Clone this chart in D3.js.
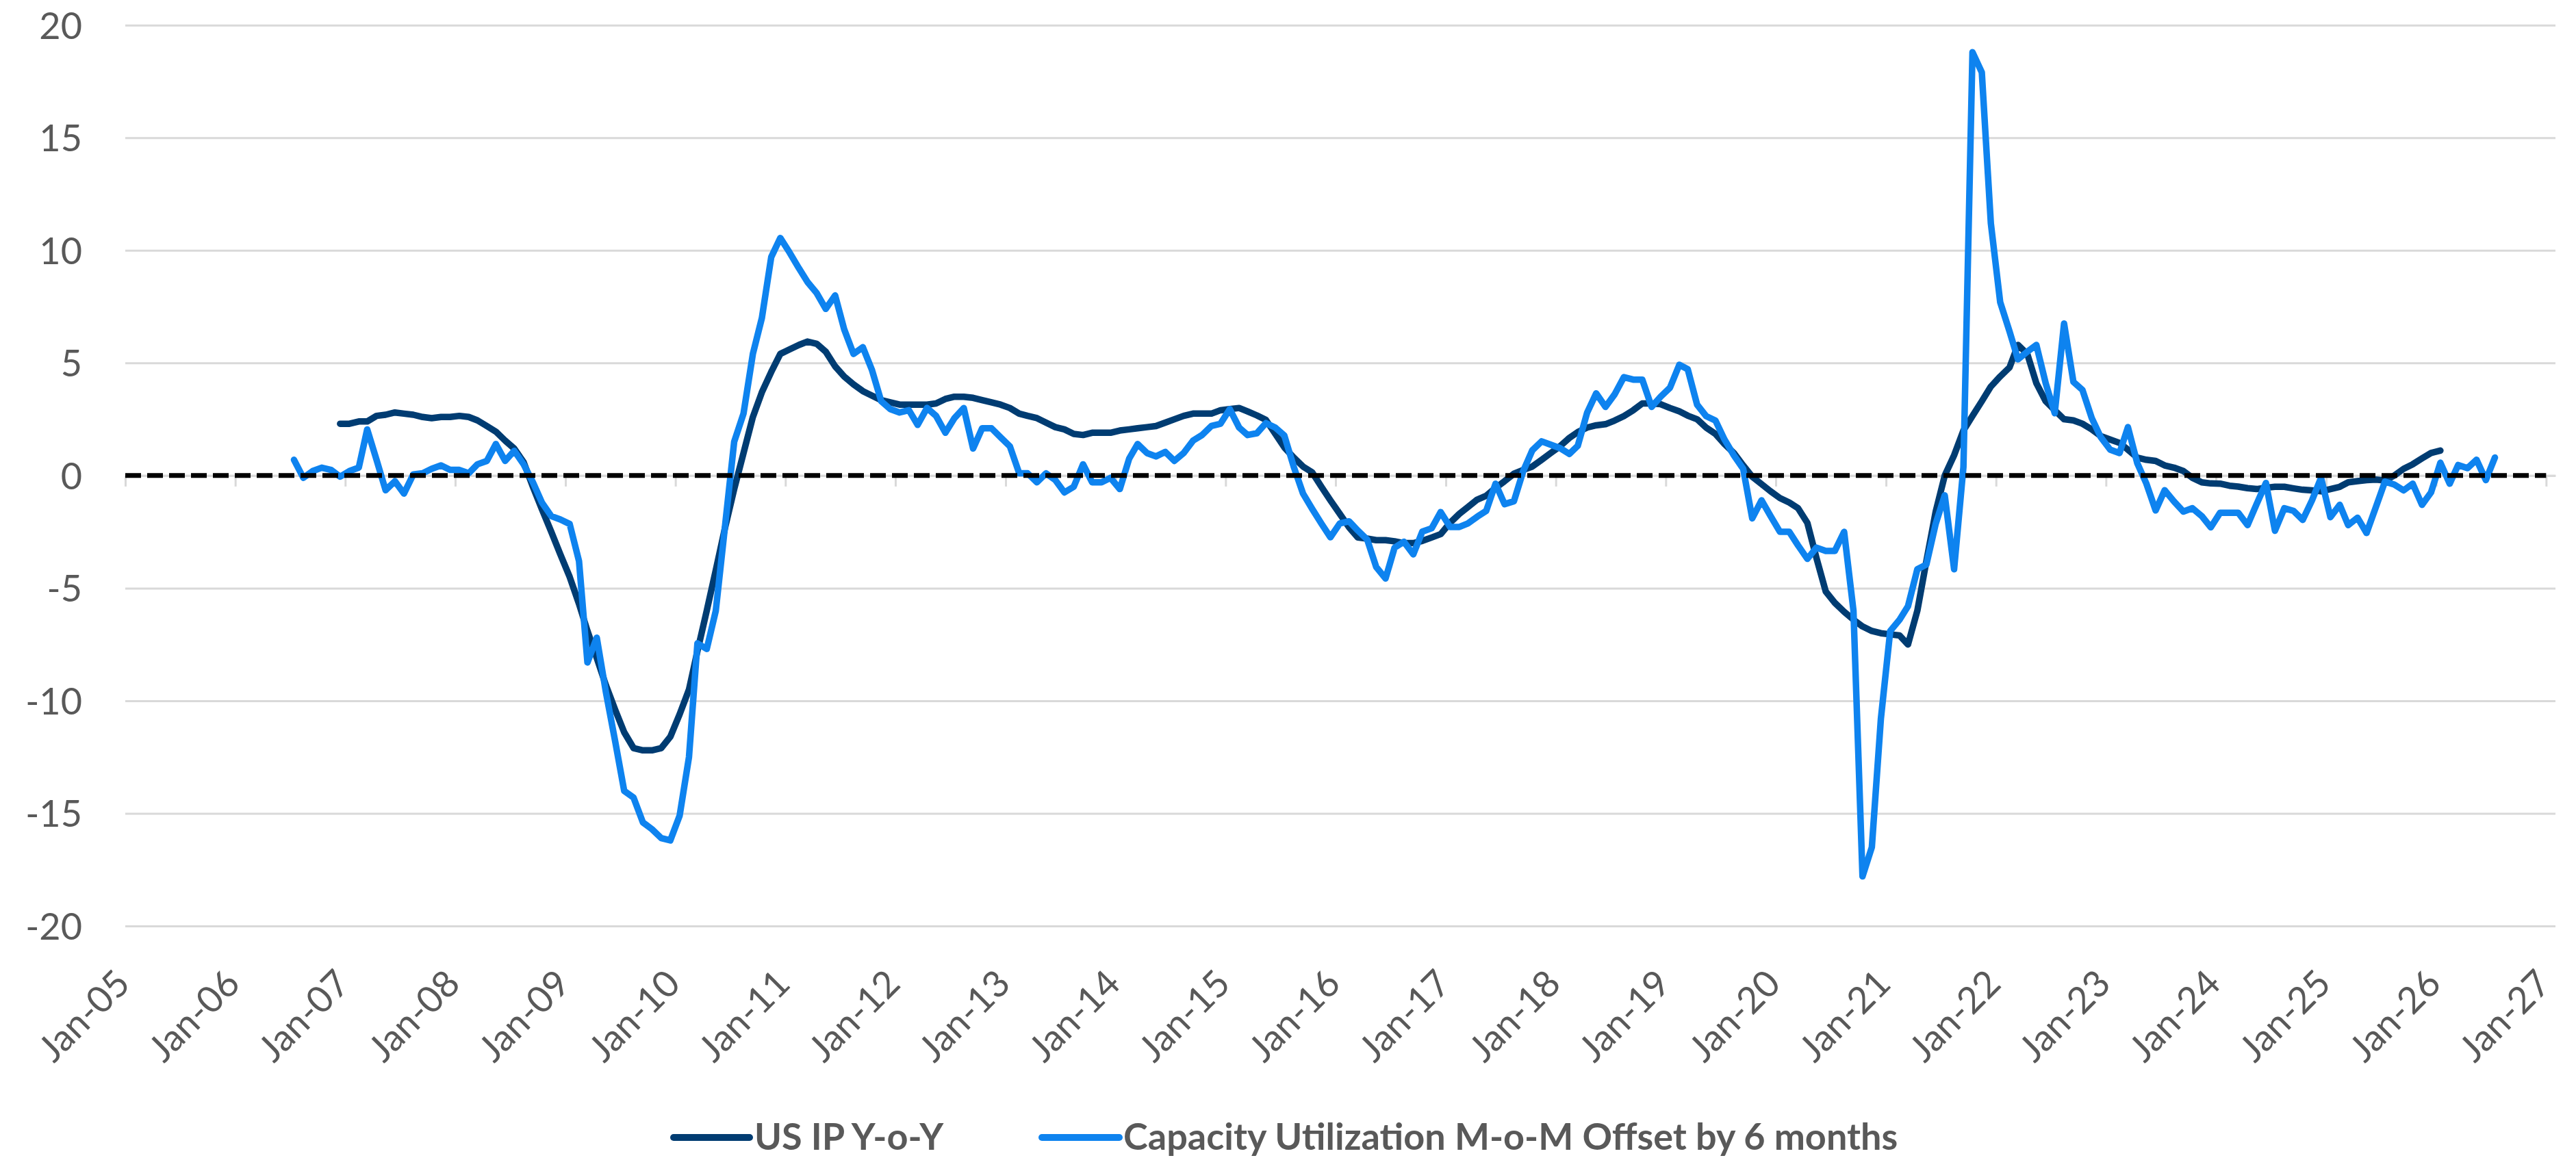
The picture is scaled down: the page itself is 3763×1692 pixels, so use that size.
<!DOCTYPE html>
<html>
<head>
<meta charset="utf-8">
<script src="https://cdnjs.cloudflare.com/ajax/libs/d3/7.8.5/d3.min.js"></script>
<style>
  body { margin: 0; background: #ffffff; }
  svg text { font-family: Lato, "Open Sans", sans-serif; fill: #595959; }
</style>
</head>
<body>
<svg id="chart"></svg>
<script>
// Canvas and plot area (pixels)
const CANVAS_WIDTH = 3763;
const CANVAS_HEIGHT = 1692;
const PLOT_LEFT = 183;
const PLOT_RIGHT = 3733;
const PLOT_TOP = 36.7; // the 20 gridline
const PLOT_BOTTOM = 1353; // the -20 gridline

const DARK_BLUE = "#003c72";
const LIGHT_BLUE = "#0e83ef";
const GRID_GREY = "#d9d9d9";

// US IP Y-o-Y, monthly from Dec 2006 to Jan 2026
const IP_START = [2006, 11];
const ipYoY = [
  2.3,
  2.3, 2.4, 2.4, 2.65, 2.7, 2.8, 2.75, 2.7, 2.6, 2.55, 2.6, 2.6,
  2.65, 2.6, 2.45, 2.2, 1.95, 1.55, 1.2, 0.6, -0.5, -1.5, -2.5, -3.5,
  -4.5, -5.7, -6.9, -8.1, -9.3, -10.4, -11.4, -12.1, -12.2, -12.2, -12.1, -11.6,
  -10.6, -9.5, -7.8, -6.0, -4.2, -2.3, -0.6, 1.0, 2.6, 3.7, 4.6, 5.4,
  5.6, 5.8, 5.95, 5.85, 5.5, 4.85, 4.4, 4.05, 3.75, 3.55, 3.35, 3.25,
  3.15, 3.15, 3.15, 3.15, 3.2, 3.4, 3.5, 3.5, 3.45, 3.35, 3.25, 3.15,
  3.0, 2.75, 2.65, 2.55, 2.35, 2.15, 2.05, 1.85, 1.8, 1.9, 1.9, 1.9,
  2.0, 2.05, 2.1, 2.15, 2.2, 2.35, 2.5, 2.65, 2.75, 2.75, 2.75, 2.9,
  2.95, 3.0, 2.85, 2.67, 2.47, 1.85, 1.25, 0.8, 0.4, 0.15, -0.5, -1.1,
  -1.7, -2.3, -2.75, -2.8, -2.87, -2.87, -2.92, -3.0, -3.0, -2.9, -2.75, -2.6,
  -2.1, -1.7, -1.4, -1.07, -0.9, -0.55, -0.25, 0.08, 0.25, 0.4, 0.7, 1.0,
  1.3, 1.67, 1.93, 2.13, 2.23, 2.28, 2.44, 2.64, 2.9, 3.2, 3.2, 3.17,
  3.0, 2.85, 2.66, 2.5, 2.13, 1.85, 1.4, 1.0, 0.45, -0.05, -0.38, -0.7,
  -1.0, -1.2, -1.45, -2.1, -3.65, -5.15, -5.65, -6.05, -6.4, -6.7, -6.9, -7.0,
  -7.05, -7.1, -7.5, -6.0, -3.8, -1.6, 0.0, 0.9, 2.0, 2.65, 3.3, 3.95,
  4.4, 4.8, 5.8, 5.4, 4.1, 3.3, 2.9, 2.5, 2.45, 2.3, 2.05, 1.75,
  1.6, 1.45, 1.15, 0.8, 0.7, 0.65, 0.45, 0.35, 0.2, -0.1, -0.3, -0.35,
  -0.36, -0.45, -0.49, -0.56, -0.6, -0.54, -0.5, -0.5, -0.57, -0.63, -0.66, -0.7,
  -0.6, -0.5, -0.3, -0.25, -0.2, -0.18, -0.22, 0.0, 0.3, 0.5, 0.76, 1.0,
  1.11
];

// Capacity Utilization M-o-M offset by 6 months, monthly from Jul 2006 to Jul 2026
const CU_START = [2006, 6];
const cuOffset = [
  0.7, -0.1, 0.2, 0.35, 0.25, -0.05,
  0.2, 0.35, 2.05, 0.7, -0.65, -0.25, -0.8, 0.05, 0.1, 0.3, 0.45, 0.25,
  0.25, 0.1, 0.5, 0.65, 1.4, 0.65, 1.1, 0.5, -0.3, -1.2, -1.8, -1.95,
  -2.15, -3.8, -8.3, -7.2, -9.6, -11.8, -14.0, -14.3, -15.4, -15.7, -16.1, -16.2,
  -15.1, -12.5, -7.45, -7.7, -6.0, -2.2, 1.5, 2.75, 5.4, 7.0, 9.7, 10.55,
  9.9, 9.2, 8.6, 8.1, 7.4, 8.0, 6.5, 5.4, 5.7, 4.7, 3.3, 2.95,
  2.8, 2.9, 2.25, 3.0, 2.65, 1.9, 2.55, 3.0, 1.2, 2.1, 2.1, 1.7,
  1.3, 0.1, 0.1, -0.3, 0.1, -0.2, -0.75, -0.5, 0.5, -0.3, -0.3, -0.1,
  -0.6, 0.75, 1.4, 1.0, 0.85, 1.05, 0.65, 1.0, 1.55, 1.8, 2.2, 2.3,
  2.95, 2.13, 1.8, 1.88, 2.33, 2.13, 1.78, 0.4, -0.8, -1.47, -2.13, -2.74,
  -2.13, -2.03, -2.44, -2.84, -4.06, -4.57, -3.2, -2.94, -3.5, -2.49, -2.34, -1.62,
  -2.28, -2.28, -2.13, -1.83, -1.57, -0.36, -1.27, -1.14, 0.2, 1.12, 1.52, 1.37,
  1.22, 0.96, 1.32, 2.79, 3.65, 3.05, 3.6, 4.37, 4.26, 4.26, 3.05, 3.5,
  3.9, 4.92, 4.72, 3.15, 2.64, 2.44, 1.6, 0.9, 0.3, -1.9, -1.1, -1.8,
  -2.5, -2.5, -3.1, -3.7, -3.2, -3.35, -3.35, -2.5, -6.0, -17.8, -16.5, -10.8,
  -6.9, -6.4, -5.8, -4.16, -3.95, -2.14, -0.88, -4.16, 0.38, 18.8, 17.9, 11.2,
  7.7, 6.4, 5.16, 5.5, 5.8, 4.1, 2.77, 6.75, 4.16, 3.8, 2.55, 1.7,
  1.15, 1.0, 2.15, 0.55, -0.35, -1.55, -0.65, -1.15, -1.6, -1.45, -1.8, -2.3,
  -1.65, -1.65, -1.65, -2.2, -1.27, -0.33, -2.45, -1.45, -1.57, -1.97, -1.1, -0.1,
  -1.85, -1.3, -2.2, -1.87, -2.55, -1.4, -0.27, -0.4, -0.66, -0.36, -1.3, -0.75,
  0.57, -0.36, 0.47, 0.33, 0.7, -0.2, 0.8
];

// Axis ticks
const yTicks = [-20, -15, -10, -5, 0, 5, 10, 15, 20];
const xTickYears = [2005, 2006, 2007, 2008, 2009, 2010, 2011, 2012, 2013, 2014, 2015, 2016,
  2017, 2018, 2019, 2020, 2021, 2022, 2023, 2024, 2025, 2026, 2027];

const seriesNames = ["US IP Y-o-Y", "Capacity Utilization M-o-M Offset by 6 months"];

// turn a start month and a list of values into dated points (points sit mid-month)
const toPoints = (start, values) =>
  values.map((v, i) => ({ date: new Date(start[0], start[1] + i, 15), value: v }));

const ipData = toPoints(IP_START, ipYoY);
const cuData = toPoints(CU_START, cuOffset);

const svg = d3.select("#chart")
  .attr("width", CANVAS_WIDTH)
  .attr("height", CANVAS_HEIGHT)
  .attr("viewBox", `0 0 ${CANVAS_WIDTH} ${CANVAS_HEIGHT}`);

svg.append("rect").attr("width", CANVAS_WIDTH).attr("height", CANVAS_HEIGHT).attr("fill", "#fff");

const xScale = d3.scaleTime()
  .domain([new Date(2005, 0, 1), new Date(2027, 1, 1)])
  .range([PLOT_LEFT, PLOT_RIGHT]);

const yScale = d3.scaleLinear()
  .domain([-20, 20])
  .range([PLOT_BOTTOM, PLOT_TOP]);

// y axis: gridlines plus labels
const yAxis = d3.axisLeft(yScale)
  .tickValues(yTicks)
  .tickSize(-(PLOT_RIGHT - PLOT_LEFT))
  .tickPadding(63)
  .tickFormat((d) => String(d));

const yAxisG = svg.append("g")
  .attr("transform", `translate(${PLOT_LEFT}, 0)`)
  .call(yAxis);
yAxisG.select(".domain").remove();
yAxisG.selectAll("line").attr("stroke", GRID_GREY).attr("stroke-width", 3);
yAxisG.selectAll("text")
  .attr("dy", "0.36em")
  .style("font-size", "54px");

// x axis line sits at zero, tick marks hang below it
const tickDates = xTickYears.map((yr) => new Date(yr, 0, 1));
const xAxis = d3.axisBottom(xScale)
  .tickValues(tickDates)
  .tickSize(16)
  .tickSizeOuter(0)
  .tickFormat("");

const xAxisG = svg.append("g")
  .attr("transform", `translate(0, ${yScale(0)})`)
  .call(xAxis);
xAxisG.select(".domain").attr("stroke", GRID_GREY).attr("stroke-width", 3);
xAxisG.selectAll("line").attr("stroke", GRID_GREY).attr("stroke-width", 3);

// x labels sit below the plot, rotated 45 degrees
const xLabels = d3.axisBottom(xScale)
  .tickValues(tickDates)
  .tickSize(0)
  .tickFormat(d3.timeFormat("%b-%y"));

const xLabelG = svg.append("g")
  .attr("transform", "translate(0, 1427)")
  .call(xLabels);
xLabelG.select(".domain").remove();
xLabelG.selectAll("text")
  .attr("x", 0)
  .attr("y", 0)
  .attr("dy", "0.35em")
  .attr("transform", "translate(-4, 0) rotate(-45)")
  .style("text-anchor", "end")
  .style("font-size", "54px");

// the two series
const line = d3.line()
  .x((d) => xScale(d.date))
  .y((d) => yScale(d.value));

svg.append("path")
  .datum(ipData)
  .attr("d", line)
  .attr("fill", "none")
  .attr("stroke", DARK_BLUE)
  .attr("stroke-width", 9.5)
  .attr("stroke-linejoin", "round")
  .attr("stroke-linecap", "round");

svg.append("path")
  .datum(cuData)
  .attr("d", line)
  .attr("fill", "none")
  .attr("stroke", LIGHT_BLUE)
  .attr("stroke-width", 9.5)
  .attr("stroke-linejoin", "round")
  .attr("stroke-linecap", "round");

// dashed zero line on top
svg.append("path")
  .datum([{ date: new Date(2005, 0, 1), value: 0 }, { date: new Date(2027, 0, 1), value: 0 }])
  .attr("d", line)
  .attr("fill", "none")
  .attr("stroke", "#000")
  .attr("stroke-width", 7)
  .attr("stroke-dasharray", "23,9");

// legend
const legend = svg.append("g").attr("class", "legend");
const legendItems = [
  { name: seriesNames[0], color: DARK_BLUE, x1: 984, x2: 1095, tx: 1102 },
  { name: seriesNames[1], color: LIGHT_BLUE, x1: 1522, x2: 1635, tx: 1641 }
];
legendItems.forEach((item) => {
  legend.append("line")
    .attr("x1", item.x1)
    .attr("x2", item.x2)
    .attr("y1", 1662)
    .attr("y2", 1662)
    .attr("stroke", item.color)
    .attr("stroke-width", 10)
    .attr("stroke-linecap", "round");
  legend.append("text")
    .attr("x", item.tx)
    .attr("y", 1680)
    .style("font-size", "54px")
    .style("font-weight", "bold")
    .text(item.name);
});
</script>
</body>
</html>
